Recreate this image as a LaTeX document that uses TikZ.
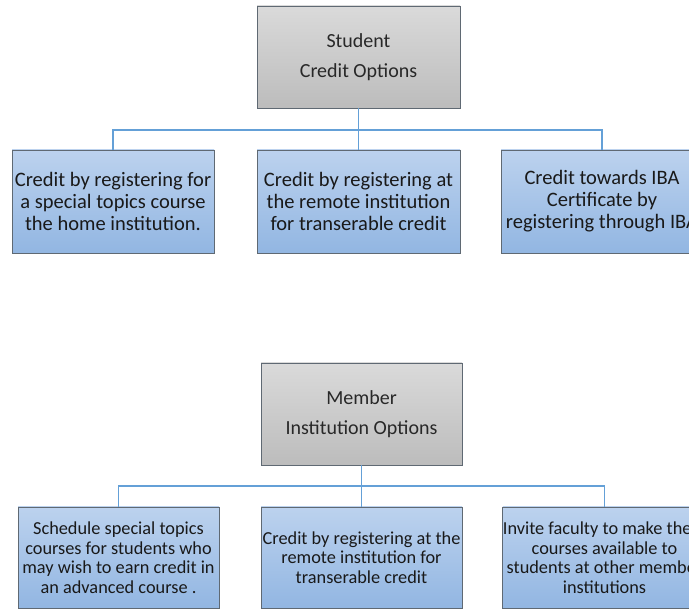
\documentclass[tikz,border=0pt]{standalone}
\usepackage{fontspec}
\setmainfont{Carlito}
\begin{document}
\begin{tikzpicture}[x=1pt,y=-1pt,
  greybox/.style={draw=boxedge, line width=0.9pt, top color=greytop, bottom color=greybot, minimum width=203pt, minimum height=102pt, inner sep=0pt, align=center, text=textcol, font=\fontsize{20}{30}\selectfont},
  bluebox/.style={draw=boxedge, line width=0.9pt, top color=bluetop, bottom color=bluebot, minimum height=103pt, inner sep=0pt, align=center, text=black!90, font=\fontsize{20.5}{22}\selectfont},
  bluebox2/.style={bluebox, minimum height=101pt, font=\fontsize{18.3}{19.5}\selectfont},
  conn/.style={draw=connblue, line width=1.8pt}
]
\definecolor{boxedge}{RGB}{95,105,115}
\definecolor{greytop}{RGB}{218,218,218}
\definecolor{greybot}{RGB}{188,188,188}
\definecolor{bluetop}{RGB}{188,210,238}
\definecolor{bluebot}{RGB}{146,182,226}
\definecolor{connblue}{RGB}{100,160,215}
\definecolor{textcol}{RGB}{40,40,40}
\useasboundingbox (0,0) rectangle (689,609);
\clip (0,0) rectangle (689,609);
\fill[white] (0,0) rectangle (689,609);

% top section
\node[greybox] (top) at (358.5,57) {Student\\Credit Options};
\node[bluebox, minimum width=202pt] (b1) at (113,201.5) {Credit by registering for\\a special topics course\\the home institution.};
\node[bluebox, minimum width=203pt] (b2) at (358.5,201.5) {Credit by registering at\\the remote institution\\for transerable credit};
\node[bluebox, minimum width=202pt] (b3) at (602,201.5) {Credit towards IBA\\Certificate by\\registering through IBA};
\coordinate (j1) at (358.5,130);
\draw[conn] (top.south) -- (j1);
\draw[conn] (b1.north) |- (j1);
\draw[conn] (b3.north) |- (j1);
\draw[conn] (b2.north) -- (j1);

% bottom section
\node[greybox, minimum width=201pt] (mtop) at (361.5,414) {Member\\Institution Options};
\node[bluebox2, minimum width=201pt] (c1) at (118.5,557.5) {Schedule special topics\\courses for students who\\may wish to earn credit in\\an advanced course .};
\node[bluebox2, minimum width=201pt] (c2) at (361.5,557.5) {Credit by registering at the\\remote institution for\\transerable credit};
\node[bluebox2, minimum width=202pt] (c3) at (604.5,557.5) {Invite faculty to make them\\courses available to\\students at other member\\institutions};
\coordinate (j2) at (361.5,486);
\draw[conn] (mtop.south) -- (j2);
\draw[conn] (c1.north) |- (j2);
\draw[conn] (c3.north) |- (j2);
\draw[conn] (c2.north) -- (j2);
\end{tikzpicture}
\end{document}
